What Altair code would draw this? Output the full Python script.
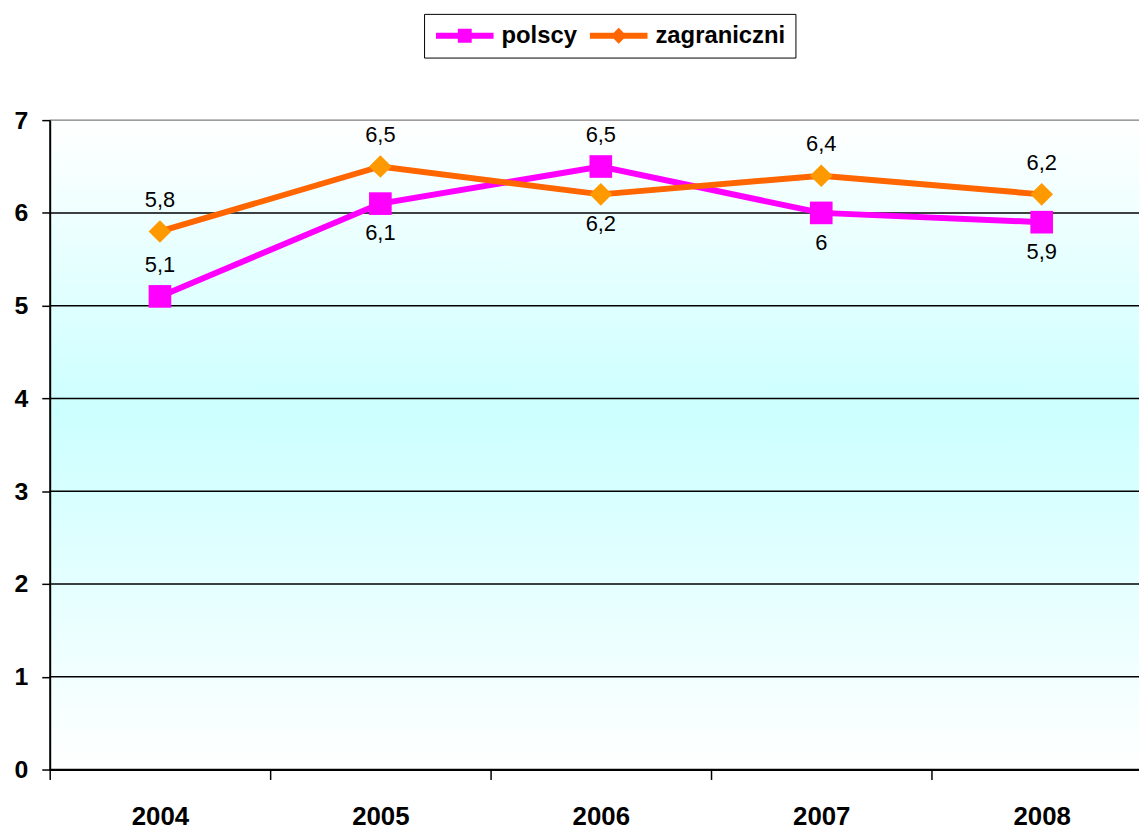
import altair as alt
import pandas as pd

# ---- data ----
years = ["2004", "2005", "2006", "2007", "2008"]
series_names = ["polscy", "zagraniczni"]
polscy = [5.1, 6.1, 6.5, 6.0, 5.9]
zagraniczni = [5.8, 6.5, 6.2, 6.4, 6.2]
# where each value label sits relative to its marker
polscy_label_side = ["above", "below", "above", "below", "below"]
zagraniczni_label_side = ["above", "above", "below", "above", "above"]
y_ticks = [0, 1, 2, 3, 4, 5, 6, 7]

line_colors = ["#FF00FF", "#FF6600"]
marker_colors = ["#FF00FF", "#FF9900"]
marker_shapes = ["square", "diamond"]
FONT = "Liberation Sans"

rows = []
for name, vals, sides in [("polscy", polscy, polscy_label_side),
                          ("zagraniczni", zagraniczni, zagraniczni_label_side)]:
    for yr, v, s in zip(years, vals, sides):
        rows.append({"year": yr, "series": name, "value": v,
                     "label": f"{v:g}".replace(".", ","), "side": s})
df = pd.DataFrame(rows)
grid_df = pd.DataFrame({"tick": y_ticks})

W, H = 1097, 654

x_enc = alt.X("year:N", title=None, bandPosition=0.5,
              scale=alt.Scale(type="band", domain=years, range=[0, 1110],
                              paddingInner=0, paddingOuter=0),
              axis=alt.Axis(tickBand="extent", domainColor="black", domainWidth=2,
                            tickColor="black", tickWidth=1.5, tickSize=10,
                            labelFont=FONT, labelFontSize=26, labelFontWeight="bold",
                            labelColor="black", labelPadding=24, labelAngle=0,
                            grid=False, zindex=1))
y_scale = alt.Scale(domain=[0, 7], nice=False, zero=True)
y_enc = alt.Y("value:Q", title=None, scale=y_scale,
              axis=alt.Axis(values=y_ticks, format="d", domainColor="black", domainWidth=2,
                            tickColor="black", tickWidth=1.5, tickSize=8,
                            labelFont=FONT, labelFontSize=25, labelFontWeight="bold",
                            labelColor="black", labelPadding=14,
                            grid=False, zindex=1))

gradient = alt.LinearGradient(
    gradient="linear", x1=0, x2=0, y1=0, y2=1,
    stops=[alt.GradientStop(color="#FFFFFF", offset=0),
           alt.GradientStop(color="#CCFFFF", offset=0.45),
           alt.GradientStop(color="#FFFFFF", offset=1)])

base = alt.Chart(df)

# legend carrier: hidden behind the plot background, it only provides the legend
sq_path = "M-2.9,-0.3H-0.7V-0.7H0.7V-0.3H2.9V0.3H0.7V0.7H-0.7V0.3H-2.9Z"
di_path = "M-2.9,-0.3H-0.5L0,-0.8L0.5,-0.3H2.9V0.3H0.5L0,0.8L-0.5,0.3H-2.9Z"
legend = alt.Legend(
    title=None, orient="none", legendX=377, legendY=-107, direction="horizontal",
    strokeColor="black", padding=10, columnPadding=10,
    symbolSize=400, symbolOffset=19, labelOffset=25, symbolStrokeWidth=0,
    symbolOpacity=1,
    labelFont=FONT, labelFontSize=24, labelFontWeight="bold", labelColor="black")
legend_layer = base.mark_point(filled=True, size=100, opacity=1).encode(
    x=x_enc, y=y_enc,
    color=alt.Color("series:N", scale=alt.Scale(domain=series_names, range=line_colors),
                    legend=legend),
    shape=alt.Shape("series:N", scale=alt.Scale(domain=series_names,
                                                range=[sq_path, di_path]),
                    legend=legend))

bg = alt.Chart(alt.Data(values=[{}])).mark_rect(color=gradient).encode(
    x=alt.value(0), x2=alt.value("width"), y=alt.value(0), y2=alt.value("height"))

grid = alt.Chart(grid_df).mark_rule(strokeWidth=1.5).encode(
    y=alt.Y("tick:Q", scale=y_scale),
    color=alt.condition("datum.tick === 7", alt.value("#808080"), alt.value("black")))

lines = base.mark_line(strokeWidth=6).encode(
    x=x_enc, y=y_enc,
    stroke=alt.Stroke("series:N", scale=alt.Scale(domain=series_names, range=line_colors),
                      legend=None),
    detail="series:N")

point_layers = []
for name, col, shp in zip(series_names, marker_colors, marker_shapes):
    point_layers.append(
        base.transform_filter(alt.datum.series == name)
        .mark_point(filled=True, opacity=1, size=520, strokeWidth=0, color=col, shape=shp)
        .encode(x=x_enc, y=y_enc))

text_above = base.mark_text(font=FONT, fontSize=22, color="black", baseline="alphabetic",
                            dy=-25).encode(x=x_enc, y=y_enc, text="label:N").transform_filter(
    "datum.side === 'above'")
text_below = base.mark_text(font=FONT, fontSize=22, color="black", baseline="alphabetic",
                            dy=37).encode(x=x_enc, y=y_enc, text="label:N").transform_filter(
    "datum.side === 'below'")

chart = alt.layer(legend_layer, bg, grid, lines, *point_layers, text_above, text_below).properties(
    width=W, height=H,
    autosize=alt.AutoSizeParams(type="none"),
    padding={"left": 42, "top": 110, "right": 0, "bottom": 62},
).configure_view(stroke=None).configure(background="white")

chart.save("out.html", embed_options={"renderer": "svg", "actions": False})
